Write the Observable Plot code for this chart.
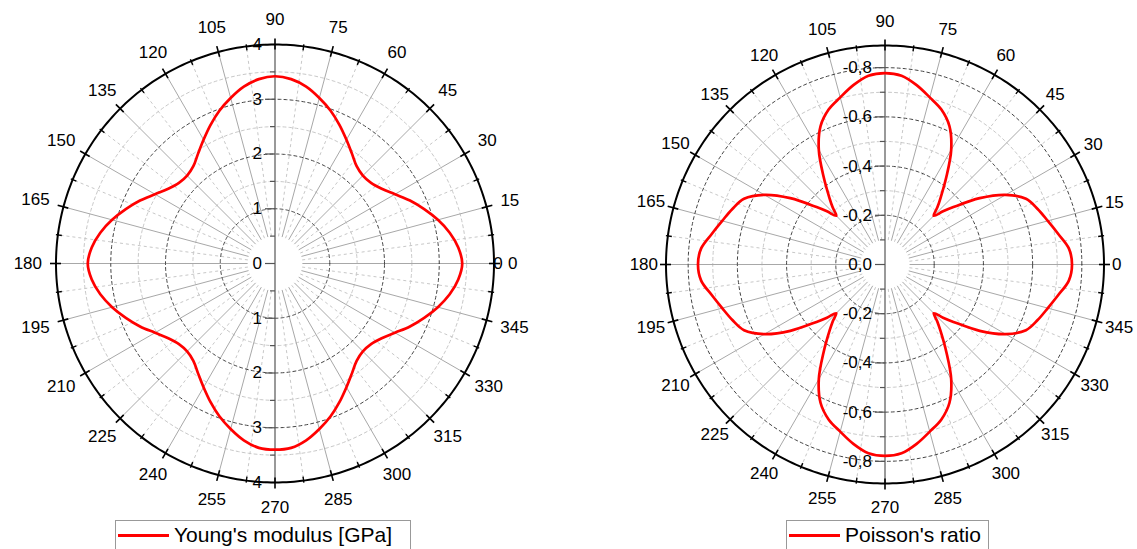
<!DOCTYPE html>
<html>
<head>
<meta charset="utf-8">
<script src="https://cdn.jsdelivr.net/npm/d3@7"></script>
<script src="https://cdn.jsdelivr.net/npm/@observablehq/plot@0.6"></script>
<style>
  body { margin: 0; background: #fff; font-family: "Liberation Sans", Arial, sans-serif; }
  #wrap { position: relative; width: 1137px; height: 549px; overflow: hidden; background: #fff; }
  .panel { position: absolute; top: 0; }
  .legend { position: absolute; top: 520px; height: 40px; border: 1px solid #999; background: #fff;
            font-size: 21px; color: #000; white-space: nowrap; box-sizing: border-box; }
  .legend .sw { position: absolute; left: 2px; top: 13px; width: 51px; height: 3px; background: #f00; }
  .legend .tx { position: absolute; left: 58px; top: 2px; line-height: 24px; }
</style>
</head>
<body>
<div id="wrap">
  <div id="left" class="panel" style="left:0px"></div>
  <div id="right" class="panel" style="left:568px"></div>
  <div class="legend" style="left:115px; width:296px;"><div class="sw"></div><div class="tx">Young's modulus [GPa]</div></div>
  <div class="legend" style="left:786px; width:203px;"><div class="sw"></div><div class="tx">Poisson's ratio</div></div>
</div>
<script>
// ---------------- data ----------------
const youngAngles = [0,5,10,15,20,25,30,35,40,45,50,55,60,65,70,75,80,85,
                     90,95,100,105,110,115,120,125,130,135,140,145,150,155,160,165,170,175,
                     180,185,190,195,200,205,210,215,220,225,230,235,240,245,250,255,260,265,
                     270,275,280,285,290,295,300,305,310,315,320,325,330,335,340,345,350,355];

// Young's modulus [GPa]
const youngValues = [3.42,3.36,3.24,3.08,2.90,2.72,2.53,2.38,2.29,2.27,2.32,2.45,2.61,2.79,2.97,3.13,3.28,3.38,
                     3.42,3.38,3.28,3.13,2.97,2.79,2.61,2.45,2.32,2.27,2.29,2.38,2.53,2.72,2.90,3.08,3.24,3.36,
                     3.42,3.36,3.24,3.08,2.90,2.72,2.53,2.38,2.29,2.27,2.32,2.45,2.61,2.79,2.97,3.13,3.28,3.38,
                     3.40,3.38,3.28,3.13,2.97,2.79,2.61,2.45,2.32,2.27,2.29,2.38,2.53,2.72,2.90,3.08,3.24,3.36];

const poissonAngles = [0,5,10,15,20,25,30,35,40,42.5,45,47.5,50,55,60,65,70,75,80,85,
                       90,95,100,105,110,115,120,125,130,132.5,135,137.5,140,145,150,155,160,165,170,175,
                       180,185,190,195,200,205,210,215,220,222.5,225,227.5,230,235,240,245,250,255,260,265,
                       270,275,280,285,290,295,300,305,310,312.5,315,317.5,320,325,330,335,340,345,350,355];

// Poisson's ratio
const poissonValues = [-0.76,-0.75,-0.715,-0.685,-0.66,-0.632,-0.566,-0.47,-0.363,-0.32,-0.28,-0.315,-0.35,-0.435,-0.538,-0.62,-0.67,-0.703,-0.74,-0.77,
                       -0.778,-0.77,-0.74,-0.703,-0.67,-0.62,-0.538,-0.435,-0.35,-0.315,-0.28,-0.32,-0.363,-0.47,-0.566,-0.632,-0.66,-0.685,-0.715,-0.75,
                       -0.76,-0.75,-0.715,-0.685,-0.66,-0.632,-0.566,-0.47,-0.363,-0.32,-0.28,-0.315,-0.35,-0.435,-0.538,-0.62,-0.67,-0.703,-0.74,-0.77,
                       -0.778,-0.77,-0.74,-0.703,-0.67,-0.62,-0.538,-0.435,-0.35,-0.315,-0.28,-0.32,-0.363,-0.47,-0.566,-0.632,-0.66,-0.685,-0.715,-0.75];

const angleTicks = [0,15,30,45,60,75,90,105,120,135,150,165,180,195,210,225,240,255,270,285,300,315,330,345];
const angleTickLabels = ["0","15","30","45","60","75","90","105","120","135","150","165",
                         "180","195","210","225","240","255","270","285","300","315","330","345"];

const youngTicks = [0,1,2,3,4];
const youngTickLabels = ["0","1","2","3","4"];
const youngMinorTicks = [0.5,1.5,2.5,3.5];

const poissonTicks = [0,-0.2,-0.4,-0.6,-0.8];
const poissonTickLabels = ["0,0","-0,2","-0,4","-0,6","-0,8"];
const poissonMinorTicks = [-0.1,-0.3,-0.5,-0.7];

// ---------------- chart builder ----------------
const FONT = '"Liberation Sans", Arial, sans-serif';
const rad = Math.PI / 180;

function polarChart(cfg) {
  const {width, height, cx, cy, R, rMax, hole, series, majorRings, minorRings,
         ticks, tickLabels, minorTicks, extraZero, gapH, gapV} = cfg;
  const k = R / rMax;            // px per data unit
  const px = v => v / k;          // px -> data units
  const cos = a => Math.cos(a * rad), sin = a => Math.sin(a * rad);

  const circlePts = rs => rs.flatMap(r => d3.range(0, 361, 1).map(a => ({r, a})));
  const allAngles15 = d3.range(0, 360, 15);
  const minorAngles = d3.range(7.5, 360, 15);

  const series2 = series.map(d => ({a: d.a, r: Math.abs(d.v)}));

  // angular labels: centre of the text box pushed out so its edge clears the ring by a gap
  const angLabels = angleTicks.map((a, i) => {
    const t = angleTickLabels[i];
    const w = t.length * 9.45, h = 12.5;
    const c = Math.abs(cos(a)), s = Math.abs(sin(a));
    const half = Math.min(c > 1e-6 ? (w / 2) / c : Infinity, s > 1e-6 ? (h / 2) / s : Infinity);
    const off = gapH * c * c + gapV * s * s + half;
    return {a, t, rr: rMax + px(off)};
  });
  if (extraZero) angLabels.push({a: 0, t: "0", rr: rMax + px(4)});

  // radial labels: top half and bottom half
  const radLabels = [];
  ticks.forEach((v, i) => {
    const r = Math.abs(v);
    radLabels.push({y: r, t: tickLabels[i]});
    if (r > 0) radLabels.push({y: -r, t: tickLabels[i]});
  });
  const majTickPos = ticks.flatMap(v => Math.abs(v) > 0 ? [Math.abs(v), -Math.abs(v)] : [0]);
  const minTickPos = minorTicks.flatMap(v => [Math.abs(v), -Math.abs(v)]);

  return Plot.plot({
    width, height,
    marginLeft: cx - R, marginRight: width - cx - R,
    marginTop: cy - R, marginBottom: height - cy - R,
    x: {domain: [-rMax, rMax], axis: null},
    y: {domain: [-rMax, rMax], axis: null},
    style: {fontFamily: FONT, fontSize: "17px", background: "transparent", overflow: "visible"},
    marks: [
      // minor rings (light dashed)
      Plot.line(circlePts(minorRings), {x: d => d.r * cos(d.a), y: d => d.r * sin(d.a), z: "r",
        stroke: "#c8c8c8", strokeWidth: 1, strokeDasharray: "3,3"}),
      // minor spokes (light dashed)
      Plot.link(minorAngles, {x1: a => hole * cos(a), y1: a => hole * sin(a),
        x2: a => rMax * cos(a), y2: a => rMax * sin(a), stroke: "#c8c8c8", strokeWidth: 1, strokeDasharray: "3,3"}),
      // major spokes
      Plot.link(allAngles15.filter(a => a !== 90 && a !== 270), {x1: a => hole * cos(a), y1: a => hole * sin(a),
        x2: a => rMax * cos(a), y2: a => rMax * sin(a), stroke: "#a8a8a8", strokeWidth: 1}),
      // major rings (dark dashed)
      Plot.line(circlePts(majorRings), {x: d => d.r * cos(d.a), y: d => d.r * sin(d.a), z: "r",
        stroke: "#444", strokeWidth: 1, strokeDasharray: "3,3"}),
      // radial axis (vertical)
      Plot.link([0], {x1: () => 0, y1: () => -rMax, x2: () => 0, y2: () => rMax, stroke: "#555", strokeWidth: 1.2}),
      Plot.link(majTickPos, {x1: () => 0, x2: () => -px(10), y1: d => d, y2: d => d, stroke: "#555", strokeWidth: 1.2}),
      Plot.link(minTickPos, {x1: () => 0, x2: () => -px(5), y1: d => d, y2: d => d, stroke: "#555", strokeWidth: 1.2}),
      // outer circle
      Plot.line(circlePts([rMax]), {x: d => d.r * cos(d.a), y: d => d.r * sin(d.a), stroke: "#000", strokeWidth: 2}),
      // angular ticks
      Plot.link(allAngles15, {x1: a => (rMax - px(5)) * cos(a), y1: a => (rMax - px(5)) * sin(a),
        x2: a => (rMax + px(6)) * cos(a), y2: a => (rMax + px(6)) * sin(a), stroke: "#000", strokeWidth: 1.6}),
      Plot.link(minorAngles, {x1: a => (rMax - px(4)) * cos(a), y1: a => (rMax - px(4)) * sin(a),
        x2: a => (rMax + px(2)) * cos(a), y2: a => (rMax + px(2)) * sin(a), stroke: "#000", strokeWidth: 1.4}),
      // data curve
      Plot.line(series2, {x: d => d.r * cos(d.a), y: d => d.r * sin(d.a), curve: "catmull-rom-closed",
        stroke: "#f00", strokeWidth: 2.7}),
      // radial labels
      Plot.text(radLabels, {x: () => 0, y: "y", text: "t", textAnchor: "end", dx: -13, fill: "#000", fontSize: 17}),
      // angular labels
      Plot.text(angLabels, {x: d => d.rr * cos(d.a), y: d => d.rr * sin(d.a), text: "t",
        textAnchor: "middle", lineAnchor: "middle", fill: "#000", fontSize: 17})
    ]
  });
}

const youngSeries = youngAngles.map((a, i) => ({a, v: youngValues[i]}));
const poissonSeries = poissonAngles.map((a, i) => ({a, v: poissonValues[i]}));

document.getElementById("left").append(polarChart({
  width: 568, height: 518, cx: 274.5, cy: 263, R: 219, rMax: 4, hole: 0.5,
  series: youngSeries, majorRings: [1, 2, 3], minorRings: [1.5, 2.5, 3.5],
  ticks: youngTicks, tickLabels: youngTickLabels, minorTicks: youngMinorTicks, extraZero: true,
  gapH: 14, gapV: 19
}));

document.getElementById("right").append(polarChart({
  width: 569, height: 518, cx: 316.5, cy: 264, R: 219, rMax: 0.89, hole: 0.1,
  series: poissonSeries, majorRings: [0.2, 0.4, 0.6, 0.8], minorRings: [0.3, 0.5, 0.7],
  ticks: poissonTicks, tickLabels: poissonTickLabels, minorTicks: poissonMinorTicks, extraZero: false,
  gapH: 8, gapV: 18
}));
</script>
</body>
</html>
